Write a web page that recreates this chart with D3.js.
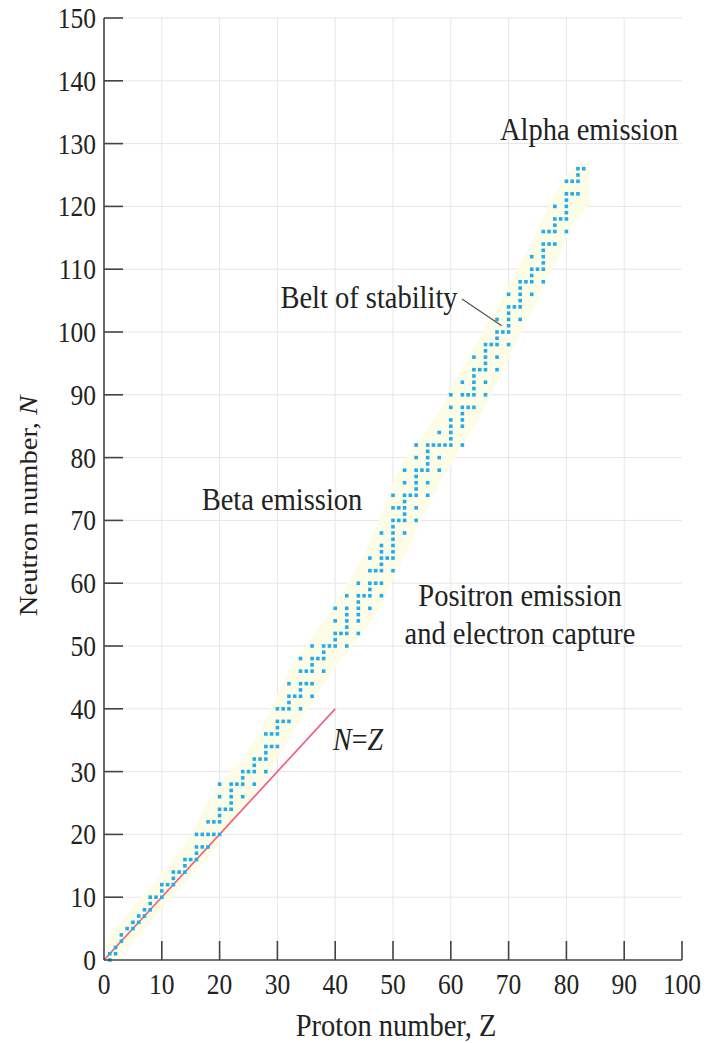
<!DOCTYPE html>
<html><head><meta charset="utf-8">
<script src="https://cdn.jsdelivr.net/npm/d3@7/dist/d3.min.js"></script>
<style>
html,body{margin:0;padding:0;background:#fff;}
svg text{font-family:"Liberation Serif","Times New Roman",serif;fill:#222;}
</style></head>
<body><svg id="c" width="706" height="1043"></svg>
<script>
// Stable nuclides: proton number Z and its stable neutron numbers N
const protonNumbers = [1,2,3,4,5,6,7,8,9,10,11,12,13,14,15,16,17,18,19,20,21,22,23,24,25,26,27,28,29,30,31,32,33,34,35,36,37,38,39,40,41,42,44,45,46,47,48,49,50,51,52,53,54,55,56,57,58,59,60,62,63,64,65,66,67,68,69,70,71,72,73,74,75,76,77,78,79,80,81,82,83];
const neutronLists = [
 [0,1],[1,2],[3,4],[5],[5,6],[6,7],[7,8],[8,9,10],[10],[10,11,12],
 [12],[12,13,14],[14],[14,15,16],[16],[16,17,18,20],[18,20],[18,20,22],[20,22],[20,22,23,24,26,28],
 [24],[24,25,26,27,28],[28],[26,28,29,30],[30],[28,30,31,32],[32],[30,32,33,34,36],[34,36],[34,36,37,38,40],
 [38,40],[38,40,41,42,44],[42],[40,42,43,44,46,48],[44,46],[42,44,46,47,48,50],[48],[46,48,49,50],[50],[50,51,52,54,56],
 [52],[50,52,53,54,55,56,58],[52,54,55,56,57,58,60],[58],[56,58,59,60,62,64],[60,62],[58,60,62,63,64,65,66,68],[64],[62,64,65,66,67,68,69,70,72,74],[70,72],
 [68,70,71,72,73,74,76,78],[74],[70,72,74,75,76,77,78,80,82],[78],[74,76,78,79,80,81,82],[82],[78,80,82,84],[82],[82,83,84,85,86,88,90],
 [82,85,86,87,88,90,92],[88,90],[88,90,91,92,93,94,96],[94],[90,92,94,95,96,97,98],[98],[94,96,98,99,100,102],[100],[98,100,101,102,103,104,106],[104],
 [102,104,105,106,107,108],[108],[106,108,109,110,112],[110],[108,110,111,112,113,114,116],[114,116],[114,116,117,118,120],[118],[116,118,119,120,121,122,124],[122,124],
 [122,124,125,126],[126]
];
const xTicks = [0,10,20,30,40,50,60,70,80,90,100];
const yTicks = [0,10,20,30,40,50,60,70,80,90,100,110,120,130,140,150];
const lineNZ = [0,40];
const xTitle = "Proton number, ";
const yTitle = "Neutron number, ";

const svg = d3.select("#c");
const x = d3.scaleLinear().domain([0,100]).range([104,682]);
const y = d3.scaleLinear().domain([0,150]).range([960,18]);
const SY = 1.1; // vertical stretch of the lettering

// grid
svg.append("g").selectAll("line").data(xTicks.filter(d=>d>0 && d<100)).join("line")
  .attr("x1",d=>x(d)).attr("x2",d=>x(d)).attr("y1",y(0)).attr("y2",y(150))
  .attr("stroke","#e6e6e6").attr("stroke-width",1);
svg.append("g").selectAll("line").data(yTicks.filter(d=>d>0)).join("line")
  .attr("x1",x(0)).attr("x2",x(100)).attr("y1",d=>y(d)).attr("y2",d=>y(d))
  .attr("stroke","#e6e6e6").attr("stroke-width",1);

// nuclide points
const pts = [];
protonNumbers.forEach((z,i)=>neutronLists[i].forEach(n=>pts.push({z,n})));

// belt of stability band derived from the points (smoothed envelope)
const raw = [];
for(let z=0; z<=84; z++){
  const win = pts.filter(p=>Math.abs(p.z-z)<=1);
  if(z===0){ raw.push({z,lo:0,hi:0}); continue; }
  if(!win.length) continue;
  raw.push({z, lo:d3.min(win,p=>p.n), hi:d3.max(win,p=>p.n)});
}
const band = raw.map((d,i)=>{
  const w = raw.slice(Math.max(0,i-3), i+4);
  return {z:d.z, lo:d3.mean(w,e=>e.lo)-1.2, hi:d3.mean(w,e=>e.hi)+1.2};
});
band[0].lo = 0; band[0].hi = 0;
svg.append("path").datum(band)
  .attr("d", d3.area().x(d=>x(d.z)).y0(d=>y(d.lo)).y1(d=>y(d.hi)).curve(d3.curveBasis))
  .attr("fill","#fdfce6");

// N = Z line
svg.append("line").attr("x1",x(lineNZ[0])).attr("y1",y(lineNZ[0])).attr("x2",x(lineNZ[1])).attr("y2",y(lineNZ[1]))
  .attr("stroke","#f2607c").attr("stroke-width",1.7);

svg.append("g").selectAll("rect").data(pts).join("rect")
  .attr("x",d=>x(d.z)-1.8).attr("y",d=>y(d.n)-1.8).attr("width",3.6).attr("height",3.6)
  .attr("fill","#22acee");

// axes
const ax = svg.append("g").attr("stroke","#444").attr("stroke-width",1.6);
ax.append("line").attr("x1",x(0)).attr("x2",x(100)).attr("y1",y(0)).attr("y2",y(0));
ax.append("line").attr("x1",x(0)).attr("x2",x(0)).attr("y1",y(0)).attr("y2",y(150));
ax.selectAll(".xt").data(xTicks.filter(d=>d>0)).join("line").attr("class","xt")
  .attr("x1",d=>x(d)).attr("x2",d=>x(d)).attr("y1",y(0)).attr("y2",y(0)-19);
ax.selectAll(".yt").data(yTicks.filter(d=>d>0)).join("line").attr("class","yt")
  .attr("x1",x(0)).attr("x2",x(0)+19).attr("y1",d=>y(d)).attr("y2",d=>y(d));

function tpos(px,py,s){ return `translate(${px},${py}) scale(1,${s||SY})`; }
const fs = 25.5;
svg.append("g").selectAll("text").data(xTicks).join("text")
  .attr("transform",d=>tpos(x(d), y(0)+34, 1.14)).attr("text-anchor","middle").attr("font-size",fs).text(d=>d);
svg.append("g").selectAll("text").data(yTicks).join("text")
  .attr("transform",d=>tpos(x(0)-8, y(d)+10, 1.14)).attr("text-anchor","end").attr("font-size",fs).text(d=>d);

// axis titles
const xt = svg.append("text").attr("transform",tpos(396,1036)).attr("text-anchor","middle").attr("font-size",28.5);
xt.append("tspan").text(xTitle); xt.append("tspan").text("Z");
const yt = svg.append("text").attr("transform","translate(37,506) rotate(-90) scale(1.1,1)").attr("text-anchor","middle").attr("font-size",26);
yt.append("tspan").text(yTitle); yt.append("tspan").attr("font-style","italic").text("N");

// region labels
function label(t,cx,by){ return svg.append("text").attr("transform",tpos(cx,by)).attr("text-anchor","middle").attr("font-size",28.5).text(t); }
label("Alpha emission",589,140);
label("Belt of stability",369,308);
label("Beta emission",282,510);
label("Positron emission",520,606);
label("and electron capture",520,644);
const nz = svg.append("text").attr("transform",tpos(333,750)).attr("font-size",28);
nz.append("tspan").attr("font-style","italic").text("N");
nz.append("tspan").text("=");
nz.append("tspan").attr("font-style","italic").text("Z");

// leader line
svg.append("line").attr("x1",462).attr("y1",299).attr("x2",x(68.8)).attr("y2",y(101))
  .attr("stroke","#555").attr("stroke-width",1.3);
</script></body></html>
